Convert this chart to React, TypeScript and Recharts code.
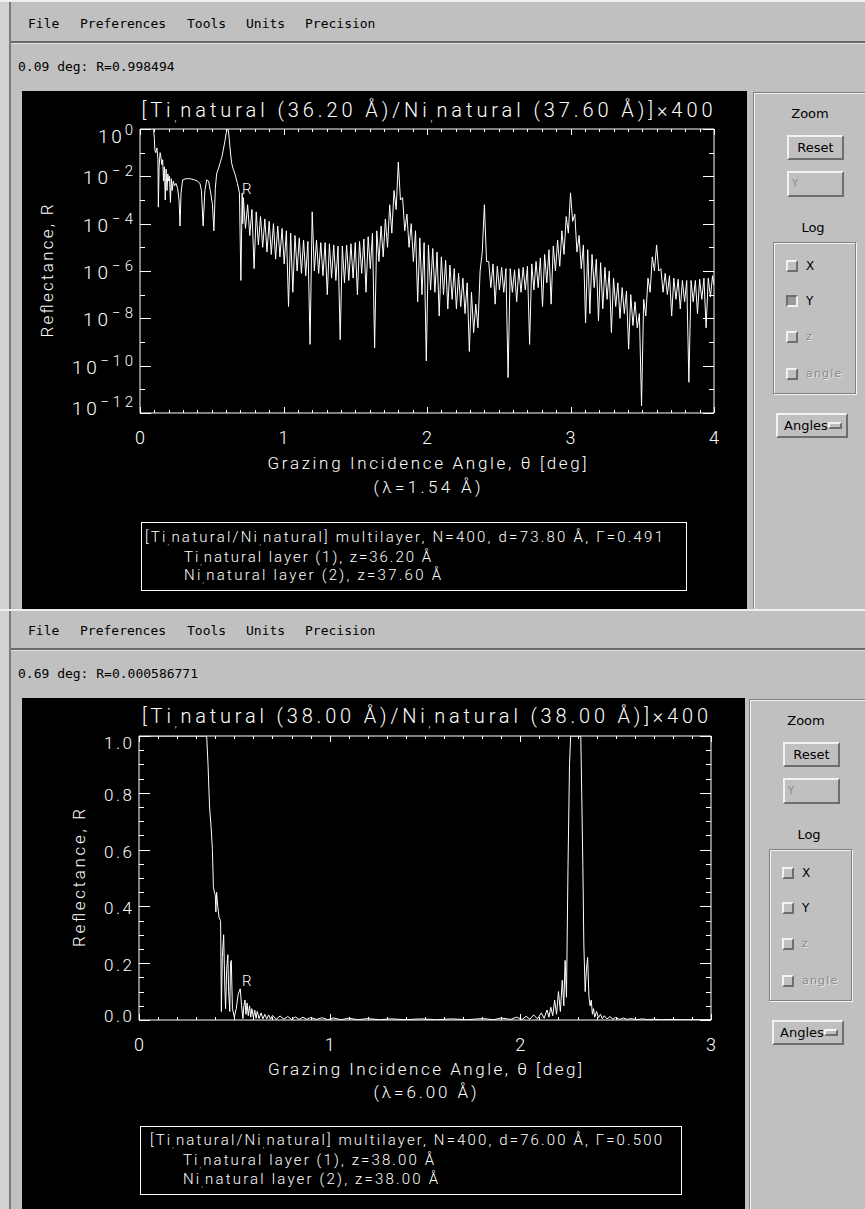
import React from 'react';
import { LineChart, Line, XAxis, YAxis, ReferenceArea } from 'recharts';

const GRAY = '#c0c0c0';
const UI_FONT = "'DejaVu Sans', sans-serif";
const MONO_FONT = "'DejaVu Sans Mono', monospace";
const PLOT_FONT = "Roboto, 'DejaVu Sans', sans-serif";

const MENU_ITEMS = ['File', 'Preferences', 'Tools', 'Units', 'Precision'];
const MENU_X = [28, 80, 187, 246, 305];
const LOG_OPTIONS = ['X', 'Y', 'z', 'angle'];
const LOG_ROW_Y = [266, 301, 337, 374];

// ---- upper window: lambda = 1.54 A, log10 of reflectance ----
const TOP_ANGLE = [
  0.09, 0.095, 0.1, 0.104, 0.11, 0.118, 0.125, 0.128, 0.133, 0.14,
  0.146, 0.152, 0.158, 0.164, 0.17, 0.176, 0.182, 0.188, 0.194, 0.2,
  0.206, 0.212, 0.218, 0.224, 0.232, 0.24, 0.25, 0.262, 0.272, 0.279,
  0.286, 0.297, 0.32, 0.35, 0.38, 0.4, 0.418, 0.428, 0.44, 0.452,
  0.465, 0.478, 0.49, 0.505, 0.515, 0.525, 0.534, 0.545, 0.557, 0.57,
  0.58, 0.592, 0.6, 0.607, 0.611, 0.616, 0.623, 0.632, 0.639, 0.65,
  0.662, 0.679, 0.693, 0.703, 0.712, 0.716,
  0.72, 0.735, 0.75, 0.765, 0.78, 0.795, 0.81, 0.825, 0.84, 0.855,
  0.87, 0.885, 0.9, 0.915, 0.93, 0.945, 0.96, 0.975, 0.99, 1.005,
  1.02, 1.035, 1.05, 1.065, 1.08, 1.095, 1.11, 1.125, 1.14, 1.155,
  1.17, 1.185, 1.2, 1.215, 1.23, 1.245, 1.26, 1.275, 1.29, 1.305,
  1.32, 1.335, 1.35, 1.365, 1.38, 1.395, 1.41, 1.425, 1.44, 1.455,
  1.47, 1.485, 1.5, 1.515, 1.53, 1.545, 1.56, 1.575, 1.59, 1.605,
  1.62, 1.635, 1.65, 1.665, 1.68, 1.695, 1.71, 1.725, 1.74, 1.755,
  1.77, 1.785, 1.8, 1.815, 1.83, 1.845, 1.86, 1.875, 1.89, 1.905,
  1.92, 1.935, 1.95, 1.965, 1.98, 1.995, 2.01, 2.025, 2.04, 2.055,
  2.07, 2.085, 2.1, 2.115, 2.13, 2.145, 2.16, 2.175, 2.19, 2.205,
  2.22, 2.235, 2.25, 2.265, 2.28, 2.295, 2.31, 2.325, 2.34, 2.355,
  2.37, 2.385, 2.4, 2.415, 2.43, 2.445, 2.46, 2.475, 2.49, 2.505,
  2.52, 2.535, 2.55, 2.565, 2.58, 2.595, 2.61, 2.625, 2.64, 2.655,
  2.67, 2.685, 2.7, 2.715, 2.73, 2.745, 2.76, 2.775, 2.79, 2.805,
  2.82, 2.835, 2.85, 2.865, 2.88, 2.895, 2.91, 2.925, 2.94, 2.955,
  2.97, 2.985, 3.0, 3.015, 3.03, 3.045, 3.06, 3.075, 3.09, 3.105,
  3.12, 3.135, 3.15, 3.165, 3.18, 3.195, 3.21, 3.225, 3.24, 3.255,
  3.27, 3.285, 3.3, 3.315, 3.33, 3.345, 3.36, 3.375, 3.39, 3.405,
  3.42, 3.435, 3.45, 3.465, 3.48, 3.495, 3.51, 3.525, 3.54, 3.555,
  3.57, 3.585, 3.6, 3.615, 3.63, 3.645, 3.66, 3.675, 3.69, 3.705,
  3.72, 3.735, 3.75, 3.765, 3.78, 3.795, 3.81, 3.825, 3.84, 3.855,
  3.87, 3.885, 3.9, 3.915, 3.93, 3.945, 3.96, 3.975, 3.99, 4.0,
];
const TOP_LOG_R = [
  -0.002, -0.05, -0.4, -0.9, -1.0, -0.8, -1.3, -3.3, -1.6, -1.0,
  -1.2, -1.5, -1.3, -2.2, -1.6, -3.0, -1.7, -2.6, -1.9, -2.2,
  -2.0, -3.1, -2.1, -2.6, -2.2, -2.4, -2.3, -2.5, -3.0, -4.1,
  -2.7, -2.15, -2.1, -2.1, -2.15, -2.2, -2.3, -2.6, -4.1, -2.6,
  -2.15, -2.2, -2.6, -3.2, -4.3, -2.5, -1.9, -1.7, -1.45, -1.2,
  -0.9, -0.5, -0.2, -0.02, -0.005, -0.05, -0.5, -1.1, -1.45, -1.7,
  -1.9, -2.3, -2.7, -6.4, -2.7, -4.0,
  -2.9, -4.2, -3.2, -4.5, -3.4, -5.9, -3.5, -4.9, -3.7, -5.0,
  -3.8, -5.2, -3.9, -5.3, -4.0, -5.5, -4.1, -5.4, -4.2, -5.7,
  -4.3, -7.5, -4.4, -6.9, -4.5, -6.0, -4.6, -6.1, -4.7, -6.2,
  -4.75, -9.1, -3.5, -6.0, -4.7, -6.1, -4.8, -6.2, -4.8, -7.0,
  -4.85, -6.3, -4.9, -6.4, -4.95, -8.9, -4.95, -6.5, -4.9, -6.4,
  -4.85, -6.3, -4.8, -7.0, -4.75, -6.1, -4.65, -6.9, -4.55, -5.9,
  -4.4, -9.25, -4.3, -5.6, -4.1, -5.4, -3.8, -5.0, -3.2, -4.4,
  -2.6, -3.4, -1.4, -3.0, -2.9, -4.3, -3.6, -5.0, -4.0, -5.6,
  -4.3, -7.3, -4.6, -7.0, -4.8, -9.8, -4.9, -6.8, -5.05, -6.9,
  -5.2, -7.9, -5.4, -7.0, -5.55, -7.6, -5.75, -7.2, -5.9, -7.6,
  -6.1, -7.5, -6.3, -7.8, -6.5, -9.4, -6.9, -8.6, -7.4, -8.4,
  -6.0, -5.2, -3.2, -5.6, -5.6, -6.7, -5.7, -7.4, -5.8, -6.8,
  -5.85, -6.9, -5.9, -10.5, -5.9, -6.9, -5.95, -7.3, -5.9, -6.9,
  -5.85, -6.8, -5.8, -9.1, -5.7, -6.8, -5.6, -6.7, -5.45, -7.5,
  -5.3, -6.5, -5.1, -7.4, -4.95, -6.0, -4.7, -5.8, -4.3, -5.3,
  -3.7, -4.4, -2.7, -3.9, -3.6, -5.2, -4.5, -5.9, -4.9, -8.2,
  -5.1, -7.8, -5.3, -6.7, -5.5, -8.1, -5.65, -7.6, -5.85, -7.2,
  -6.0, -8.6, -6.3, -7.5, -6.5, -8.0, -6.7, -7.8, -6.85, -9.3,
  -7.0, -8.3, -7.3, -8.4, -7.8, -11.7, -7.2, -7.9, -6.3, -6.9,
  -5.4, -6.0, -4.9, -6.0, -5.9, -6.9, -6.1, -7.0, -6.2, -7.9,
  -6.3, -7.2, -6.35, -7.6, -6.4, -7.3, -6.4, -10.7, -6.4, -7.3,
  -6.4, -7.8, -6.35, -7.2, -6.3, -8.4, -6.3, -7.1, -6.2, -6.6,
];
const TOP_X_TICKS = Array.from({ length: 41 }, (_, i) => i / 10);
const TOP_Y_TICKS = [1, 1e-1, 1e-2, 1e-3, 1e-4, 1e-5, 1e-6, 1e-7, 1e-8, 1e-9, 1e-10, 1e-11, 1e-12];
const TOP_TITLE = '[Ti_natural (36.20 Å)/Ni_natural (37.60 Å)]×400';
const TOP_STATUS = '0.09 deg: R=0.998494';
const TOP_LAMBDA = '(λ=1.54 Å)';
const TOP_LEGEND = [
  '[Ti_natural/Ni_natural] multilayer, N=400, d=73.80 Å, Γ=0.491',
  'Ti_natural layer (1), z=36.20 Å',
  'Ni_natural layer (2), z=37.60 Å',
];

// ---- lower window: lambda = 6.00 A, linear reflectance ----
const BOT_ANGLE = [
  0.05, 0.15, 0.25, 0.33, 0.355, 0.362, 0.37, 0.378, 0.385, 0.39,
  0.395, 0.4, 0.403, 0.407, 0.413, 0.42, 0.428, 0.432, 0.437, 0.444,
  0.45, 0.454, 0.46, 0.466, 0.47, 0.476, 0.48, 0.484, 0.49, 0.5,
  0.51, 0.52, 0.531, 0.538, 0.545, 0.55, 0.556, 0.561, 0.567, 0.573,
  0.58, 0.586, 0.592, 0.6, 0.607, 0.614, 0.62, 0.63, 0.64, 0.65,
  0.66, 0.67, 0.68, 0.69, 0.7, 0.72, 0.74, 0.76, 0.78, 0.8,
  0.82, 0.84, 0.86, 0.88, 0.9, 0.93, 0.96, 0.99, 1.02, 1.06,
  1.1, 1.15, 1.2, 1.26, 1.32, 1.4, 1.48, 1.56, 1.64, 1.72,
  1.8, 1.86, 1.9, 1.95, 1.98, 2.01, 2.03, 2.05, 2.07, 2.09,
  2.11, 2.125, 2.14, 2.15, 2.16, 2.17, 2.18, 2.19, 2.2, 2.21,
  2.22, 2.228, 2.235, 2.242, 2.25, 2.258, 2.264, 2.28, 2.3, 2.317,
  2.322, 2.328, 2.333, 2.34, 2.347, 2.353, 2.36, 2.366, 2.372, 2.378,
  2.384, 2.39, 2.4, 2.41, 2.42, 2.43, 2.44, 2.455, 2.47, 2.485,
  2.5, 2.52, 2.54, 2.56, 2.58, 2.61, 2.64, 2.67, 2.7, 2.74,
  2.78, 2.85, 2.92, 3.0,
];
const BOT_R = [
  1.0, 1.0, 1.0, 1.0, 1.0, 0.9, 0.75, 0.68, 0.6, 0.47,
  0.45, 0.44, 0.38, 0.45, 0.4, 0.36, 0.35, 0.03, 0.22, 0.3,
  0.12, 0.04, 0.18, 0.23, 0.1, 0.03, 0.2, 0.21, 0.04, 0.01,
  0.04, 0.09, 0.11, 0.05, 0.005, 0.05, 0.07, 0.02, 0.06, 0.015,
  0.05, 0.01, 0.04, 0.008, 0.035, 0.006, 0.03, 0.005, 0.025, 0.004,
  0.02, 0.004, 0.018, 0.003, 0.016, 0.003, 0.014, 0.003, 0.012, 0.002,
  0.011, 0.002, 0.01, 0.002, 0.009, 0.002, 0.008, 0.001, 0.007, 0.001,
  0.006, 0.001, 0.005, 0.001, 0.004, 0.001, 0.004, 0.001, 0.004, 0.001,
  0.005, 0.001, 0.007, 0.002, 0.01, 0.002, 0.013, 0.003, 0.018, 0.004,
  0.025, 0.006, 0.035, 0.01, 0.045, 0.015, 0.07, 0.02, 0.1, 0.03,
  0.14, 0.05, 0.21, 0.08, 0.54, 0.9, 1.0, 1.0, 1.0, 1.0,
  0.8, 0.54, 0.27, 0.1, 0.18, 0.22, 0.08, 0.05, 0.07, 0.02,
  0.04, 0.01, 0.03, 0.008, 0.02, 0.005, 0.015, 0.004, 0.012, 0.003,
  0.009, 0.002, 0.007, 0.002, 0.005, 0.001, 0.004, 0.001, 0.003, 0.001,
  0.002, 0.001, 0.001, 0.001,
];
const BOT_X_TICKS = Array.from({ length: 31 }, (_, i) => i / 10);
const BOT_Y_TICKS = Array.from({ length: 21 }, (_, i) => i / 20);
const BOT_TITLE = '[Ti_natural (38.00 Å)/Ni_natural (38.00 Å)]×400';
const BOT_STATUS = '0.69 deg: R=0.000586771';
const BOT_LAMBDA = '(λ=6.00 Å)';
const BOT_LEGEND = [
  '[Ti_natural/Ni_natural] multilayer, N=400, d=76.00 Å, Γ=0.500',
  'Ti_natural layer (1), z=38.00 Å',
  'Ni_natural layer (2), z=38.00 Å',
];

const Y_TITLE = 'Reflectance, R';
const X_TITLE = 'Grazing Incidence Angle, θ [deg]';

const topData = TOP_ANGLE.map((a, i) => ({ a, r: Math.pow(10, TOP_LOG_R[i]) }));
const botData = BOT_ANGLE.map((a, i) => ({ a, r: BOT_R[i] }));

type Box = { left: number; top: number; width: number; height: number };

const isWhole = (v: number) => Math.abs(v - Math.round(v)) < 1e-6;
const tickStyle = { stroke: '#ffffff', strokeWidth: 1, fill: 'none' };

// "Ti_natural" -> Ti with a small lowered comma, then natural
function natText(s: string, dy: number, fs: number) {
  return s.split('_').map((p, i) =>
    i === 0 ? (
      <tspan key={i}>{p}</tspan>
    ) : (
      <React.Fragment key={i}>
        <tspan dy={dy} fontSize={fs}>,</tspan>
        <tspan dy={-dy}>{p}</tspan>
      </React.Fragment>
    )
  );
}

// each tick is drawn inward on both opposite sides of the frame, like the IDL plot
function xTick(box: Box) {
  return (props: any) => {
    const v: number = props.payload.value;
    const major = isWhole(v);
    const len = major ? 6 : 3;
    const bottom = box.top + box.height;
    const px = Math.round(props.x) + 0.5;
    const d = `M${px},${bottom}V${bottom - len}M${px},${box.top}V${box.top + len}`;
    return (
      <g>
        <path d={d} style={tickStyle} shapeRendering="crispEdges" />
        {major ? (
          <text x={props.x} y={bottom + 31} textAnchor="middle" fill="#fff" fontSize={18} fontFamily={PLOT_FONT} fontWeight={300}>
            {String(Math.round(v))}
          </text>
        ) : null}
      </g>
    );
  };
}

function logYTick(box: Box) {
  return (props: any) => {
    const v: number = props.payload.value;
    const n = Math.round(Math.log10(v));
    const major = n % 2 === 0;
    const len = major ? 11 : 5;
    const py = Math.round(props.y) + 0.5;
    const right = box.left + box.width;
    const exp = n === 0 ? '0' : `\u2212${Math.abs(n)}`;
    const base = n === 0 ? 14 : n === -12 ? 2 : 8;
    const tl = n === 0 ? 35 : Math.abs(n) < 10 ? 50 : 61;
    const d = `M${box.left},${py}H${box.left + len}M${right - len},${py}H${right}`;
    return (
      <g>
        <path d={d} style={tickStyle} shapeRendering="crispEdges" />
        {major ? (
          <text x={box.left - 7} y={props.y + base} textAnchor="end" fill="#fff" fontFamily={PLOT_FONT} fontWeight={300} textLength={tl} lengthAdjust="spacing">
            <tspan fontSize={19}>10</tspan>
            <tspan fontSize={15} dy={-8}>{exp}</tspan>
          </text>
        ) : null}
      </g>
    );
  };
}

function linYTick(box: Box) {
  return (props: any) => {
    const v: number = props.payload.value;
    const major = isWhole(v * 5);
    const len = major ? 11 : 5;
    const py = Math.round(props.y) + 0.5;
    const right = box.left + box.width;
    const base = v > 0.99 ? 13 : v < 0.01 ? 2 : 8;
    const d = `M${box.left},${py}H${box.left + len}M${right - len},${py}H${right}`;
    return (
      <g>
        <path d={d} style={tickStyle} shapeRendering="crispEdges" />
        {major ? (
          <text x={box.left - 7} y={props.y + base} textAnchor="end" fill="#fff" fontSize={17} fontFamily={PLOT_FONT} fontWeight={300} textLength={28} lengthAdjust="spacing">
            {v.toFixed(1)}
          </text>
        ) : null}
      </g>
    );
  };
}

type OverlaySpec = {
  title: string; titleX: number; titleY: number; titleLen: number;
  yTitleX: number; yTitleY: number; yTitleLen: number;
  xTitleX: number; xTitleY: number; xTitleLen: number;
  lambda: string; lambdaY: number; lambdaLen: number;
  legend: string[]; legendRect: [number, number, number, number];
  legendLines: [number, number, number][];
  rX: number; rY: number;
};

function PlotText({ s, w, h }: { s: OverlaySpec; w: number; h: number }) {
  const common = { fill: '#fff', fontFamily: PLOT_FONT, fontWeight: 300 } as const;
  return (
    <svg width={w} height={h} style={{ position: 'absolute', left: 0, top: 0, pointerEvents: 'none' }}>
      <text {...common} x={s.titleX} y={s.titleY} fontSize={20} textAnchor="middle" textLength={s.titleLen} lengthAdjust="spacing">
        {natText(s.title, 4, 10)}
      </text>
      <text {...common} fontSize={17} textAnchor="middle" textLength={s.yTitleLen} lengthAdjust="spacing"
        transform={`translate(${s.yTitleX},${s.yTitleY}) rotate(-90)`} y={6}>
        {Y_TITLE}
      </text>
      <text {...common} x={s.xTitleX} y={s.xTitleY} fontSize={17} textAnchor="middle" textLength={s.xTitleLen} lengthAdjust="spacing">
        {X_TITLE}
      </text>
      <text {...common} x={s.xTitleX} y={s.lambdaY} fontSize={17} textAnchor="middle" textLength={s.lambdaLen} lengthAdjust="spacing">
        {s.lambda}
      </text>
      <rect x={s.legendRect[0]} y={s.legendRect[1]} width={s.legendRect[2]} height={s.legendRect[3]} fill="none" stroke="#fff" strokeWidth={1} />
      {s.legend.map((line, i) => (
        <text key={i} {...common} x={s.legendLines[i][0]} y={s.legendLines[i][1]} fontSize={15} textLength={s.legendLines[i][2]} lengthAdjust="spacing">
          {natText(line, 3, 8)}
        </text>
      ))}
      <text {...common} x={s.rX} y={s.rY} fontSize={15}>R</text>
    </svg>
  );
}

const TOP_BOX: Box = { left: 118, top: 38, width: 574, height: 284 };
const BOT_BOX: Box = { left: 117, top: 38, width: 572, height: 284 };

// axes get 1px of room (a zero-sized axis is not drawn at all)
function chartMargin(b: Box, W: number, H: number) {
  return { top: b.top, left: b.left - 1, right: W - b.left - b.width, bottom: H - b.top - b.height - 1 };
}

function TopPlot() {
  const W = 725;
  const H = 518;
  const b = TOP_BOX;
  return (
    <>
      <LineChart width={W} height={H} data={topData} margin={chartMargin(b, W, H)}>
        <ReferenceArea x1={0} x2={4} y1={1e-12} y2={1} fill="none" stroke="#fff" strokeWidth={1} ifOverflow="visible" />
        <Line dataKey="r" type="linear" stroke="#fff" strokeWidth={1} dot={false} isAnimationActive={false} />
        <XAxis dataKey="a" type="number" domain={[0, 4]} ticks={TOP_X_TICKS} interval={0} height={1}
          axisLine={false} tickLine={false} tick={xTick(b)} allowDataOverflow />
        <YAxis type="number" scale="log" domain={[1e-12, 1]} ticks={TOP_Y_TICKS} interval={0} width={1}
          axisLine={false} tickLine={false} tick={logYTick(b)} allowDataOverflow />
      </LineChart>
      <PlotText w={W} h={H} s={{
        title: TOP_TITLE, titleX: 405, titleY: 26, titleLen: 571,
        yTitleX: 25, yTitleY: 180, yTitleLen: 133,
        xTitleX: 405, xTitleY: 378, xTitleLen: 319,
        lambda: TOP_LAMBDA, lambdaY: 402, lambdaLen: 107,
        legend: TOP_LEGEND, legendRect: [119.5, 431.5, 545, 68],
        legendLines: [[123, 451, 518], [162, 471, 247], [162, 489, 257]],
        rX: 220, rY: 103,
      }} />
    </>
  );
}

function BottomPlot() {
  const W = 723;
  const H = 511;
  const b = BOT_BOX;
  return (
    <>
      <LineChart width={W} height={H} data={botData} margin={chartMargin(b, W, H)}>
        <ReferenceArea x1={0} x2={3} y1={0} y2={1} fill="none" stroke="#fff" strokeWidth={1} ifOverflow="visible" />
        <Line dataKey="r" type="linear" stroke="#fff" strokeWidth={1} dot={false} isAnimationActive={false} />
        <XAxis dataKey="a" type="number" domain={[0, 3]} ticks={BOT_X_TICKS} interval={0} height={1}
          axisLine={false} tickLine={false} tick={xTick(b)} allowDataOverflow />
        <YAxis type="number" domain={[0, 1]} ticks={BOT_Y_TICKS} interval={0} width={1}
          axisLine={false} tickLine={false} tick={linYTick(b)} allowDataOverflow />
      </LineChart>
      <PlotText w={W} h={H} s={{
        title: BOT_TITLE, titleX: 403, titleY: 25, titleLen: 566,
        yTitleX: 57, yTitleY: 180, yTitleLen: 138,
        xTitleX: 403, xTitleY: 377, xTitleLen: 314,
        lambda: BOT_LAMBDA, lambdaY: 400, lambdaLen: 103,
        legend: BOT_LEGEND, legendRect: [118.5, 428.5, 541, 68],
        legendLines: [[128, 447, 512], [161, 467, 251], [161, 486, 255]],
        rX: 220, rY: 288,
      }} />
    </>
  );
}

function Txt({ x, cx, cy, size = 13, family = UI_FONT, color = '#000', shadow, spacing, children }: any) {
  const h = size * 2;
  const style: React.CSSProperties = {
    position: 'absolute', top: cy - h / 2, height: h, lineHeight: `${h}px`, fontSize: size,
    fontFamily: family, color, whiteSpace: 'pre', letterSpacing: spacing, textShadow: shadow,
  };
  if (cx !== undefined) return <div style={{ ...style, left: cx - 100, width: 200, textAlign: 'center' }}>{children}</div>;
  return <div style={{ ...style, left: x }}>{children}</div>;
}

function Bevel({ x, y, w, h, sunken = false, fill = GRAY, children }: any) {
  return (
    <div style={{
      position: 'absolute', left: x, top: y, width: w, height: h, boxSizing: 'border-box', background: fill,
      borderStyle: 'solid', borderWidth: 2,
      borderColor: sunken ? '#6e6e6e #f2f2f2 #f2f2f2 #6e6e6e' : '#f2f2f2 #6e6e6e #6e6e6e #f2f2f2',
    }}>{children}</div>
  );
}

const STIPPLE = '#8a8a8a';

function SidePanel({ y0, dx, bottom, yChecked }: { y0: number; dx: number; bottom: number; yChecked: boolean }) {
  const X = (v: number) => v + dx;
  const Y = (v: number) => v + y0;
  return (
    <>
      <div style={{
        position: 'absolute', left: X(753), top: Y(92), width: 865 - X(753), height: bottom - Y(92),
        boxSizing: 'border-box', borderLeft: '1px solid #808080', borderTop: '1px solid #808080',
        boxShadow: 'inset 1px 1px 0 #f4f4f4',
      }} />
      <Txt cx={X(810)} cy={Y(114)}>Zoom</Txt>
      <Bevel x={X(787)} y={Y(135)} w={57} h={25} />
      <Txt cx={X(815.5)} cy={Y(147.5)}>Reset</Txt>
      <Bevel x={X(787)} y={Y(171)} w={57} h={26} />
      <Txt x={X(792)} cy={Y(184)} size={10} color={STIPPLE}>Y</Txt>
      <Txt cx={X(813)} cy={Y(228)}>Log</Txt>
      <div style={{
        position: 'absolute', left: X(773), top: Y(242), width: 83, height: 152, boxSizing: 'border-box',
        border: '1px solid #808080', boxShadow: 'inset 1px 1px 0 #f4f4f4, 1px 1px 0 #f4f4f4',
      }} />
      {LOG_OPTIONS.map((opt, i) => {
        const cy = Y(LOG_ROW_Y[i]);
        const checked = yChecked && opt === 'Y';
        const dim = opt === 'z' || opt === 'angle';
        return (
          <React.Fragment key={opt}>
            <Bevel x={X(786)} y={cy - 6} w={12} h={12} sunken={checked} fill={checked ? '#9a9a9a' : GRAY} />
            <Txt x={X(806)} cy={cy} size={dim ? 11 : 12} color={dim ? STIPPLE : '#000'}
              spacing={opt === 'angle' ? 1.2 : undefined} shadow={dim ? '1px 1px 0 #e8e8e8' : undefined}>
              {opt}
            </Txt>
          </React.Fragment>
        );
      })}
      <Bevel x={X(776)} y={Y(413)} w={72} h={25} />
      <Txt x={X(784)} cy={Y(425.5)}>Angles</Txt>
      <Bevel x={X(828)} y={Y(422)} w={14} h={7} />
    </>
  );
}

function Window({ top, y0, bottom, blackRight, sideDx, status, yChecked, children }: any) {
  const h = bottom - top;
  const blackTop = y0 + 91;
  return (
    <>
      <div style={{ position: 'absolute', left: 0, top, width: 865, height: h, background: GRAY }} />
      <div style={{ position: 'absolute', left: 0, top, width: 9, height: h, background: '#d2d2d2' }} />
      <div style={{ position: 'absolute', left: 9, top, width: 2, height: h, background: '#7c7c7c' }} />
      <div style={{ position: 'absolute', left: 0, top, width: 865, height: 2, background: '#efefef' }} />
      <div style={{ position: 'absolute', left: 11, top: y0 + 41, width: 854, height: 2, background: '#6a6a6a' }} />
      <div style={{ position: 'absolute', left: 11, top: y0 + 43, width: 854, height: 1, background: '#e4e4e4' }} />
      {MENU_ITEMS.map((m, i) => (
        <Txt key={m} x={MENU_X[i]} cy={y0 + 24} family={MONO_FONT} size={13}>{m}</Txt>
      ))}
      <Txt x={18} cy={y0 + 67} family={MONO_FONT} size={13}>{status}</Txt>
      <div style={{ position: 'absolute', left: 22, top: blackTop, width: blackRight - 22, height: bottom - blackTop, background: '#000', overflow: 'hidden' }}>
        {children}
      </div>
      <SidePanel y0={y0} dx={sideDx} bottom={bottom} yChecked={yChecked} />
    </>
  );
}

export default function App() {
  return (
    <div style={{ position: 'absolute', left: 0, top: 0, width: 865, height: 1209, overflow: 'hidden', background: GRAY }}>
      <Window top={0} y0={0} bottom={609} blackRight={747} sideDx={0} status={TOP_STATUS} yChecked>
        <TopPlot />
      </Window>
      <Window top={609} y0={607} bottom={1209} blackRight={745} sideDx={-4} status={BOT_STATUS} yChecked={false}>
        <BottomPlot />
      </Window>
    </div>
  );
}
